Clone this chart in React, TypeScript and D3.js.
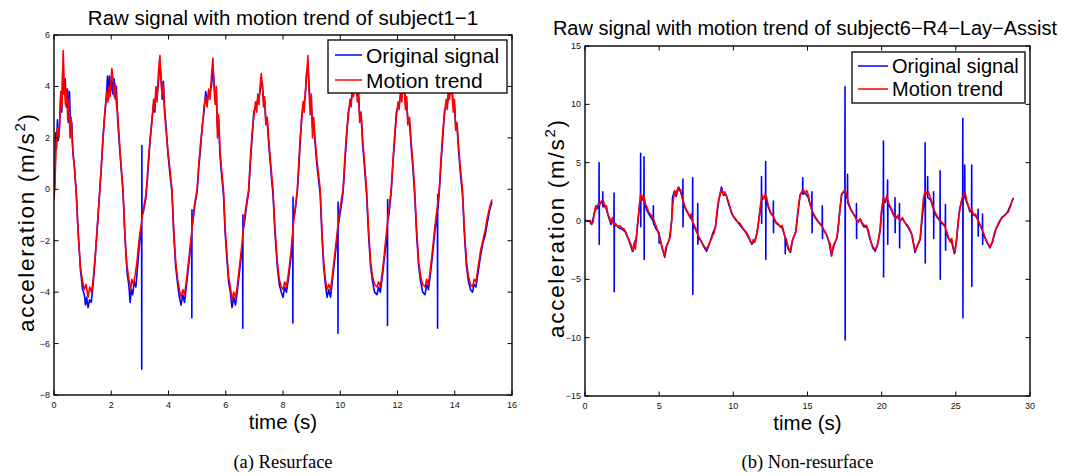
import React from "react";
import * as d3 from "d3";

// ---------------- DATA ----------------
const leftXTicks = [0, 2, 4, 6, 8, 10, 12, 14, 16];
const leftYTicks = [-8, -6, -4, -2, 0, 2, 4, 6];
const rightXTicks = [0, 5, 10, 15, 20, 25, 30];
const rightYTicks = [-15, -10, -5, 0, 5, 10, 15];
const seriesNames = ["Original signal", "Motion trend"];
const titles = [
  "Raw signal with motion trend of subject1\u22121",
  "Raw signal with motion trend of subject6\u2212R4\u2212Lay\u2212Assist",
];
const captions = ["(a) Resurface", "(b) Non-resurface"];

// left panel: motion trend (time s, acceleration)
const leftTrend: [number, number][] = [
  [0.0, -0.4], [0.04, 0.5], [0.08, 1.8], [0.12, 2.4], [0.16, 2.0], [0.2, 2.6], [0.24, 3.8], [0.28, 3.2], [0.32, 5.4], [0.36, 4.0],
  [0.4, 3.3], [0.44, 3.9], [0.48, 2.7], [0.52, 3.5], [0.56, 2.0], [0.6, 2.8], [0.64, 1.8], [0.7, 1.0], [0.77, 0.0], [0.84, -1.6],
  [0.92, -3.0], [1.0, -3.6], [1.06, -3.9], [1.12, -3.7], [1.19, -4.2], [1.25, -3.8], [1.31, -4.0], [1.37, -3.5], [1.44, -2.6], [1.52, -1.4],
  [1.6, 0.0], [1.66, 1.0], [1.72, 2.1], [1.78, 3.0], [1.84, 3.8], [1.88, 3.4], [1.92, 4.0], [1.96, 3.6], [2.02, 4.7], [2.06, 4.3],
  [2.1, 3.6], [2.14, 4.1], [2.18, 3.3], [2.22, 3.0], [2.28, 2.0], [2.34, 1.0], [2.41, 0.0], [2.48, -1.8], [2.55, -3.0], [2.62, -3.5],
  [2.68, -3.9], [2.72, -3.5], [2.78, -3.7], [2.84, -3.3], [2.9, -2.8], [2.97, -2.0], [3.04, -1.4], [3.12, -0.8], [3.2, -0.3], [3.25, 0.3],
  [3.3, 1.2], [3.36, 2.0], [3.42, 2.6], [3.48, 3.5], [3.52, 3.1], [3.56, 4.0], [3.6, 3.4], [3.65, 4.6], [3.7, 5.2], [3.74, 4.2],
  [3.78, 3.6], [3.82, 4.1], [3.86, 3.0], [3.92, 2.2], [3.98, 1.5], [4.05, 0.8], [4.12, 0.0], [4.18, -1.5], [4.25, -2.8], [4.32, -3.5],
  [4.38, -3.9], [4.44, -4.2], [4.5, -3.9], [4.56, -4.1], [4.62, -3.6], [4.7, -2.8], [4.78, -2.0], [4.85, -1.2], [4.92, -0.5], [5.0, 0.0],
  [5.06, 1.0], [5.12, 1.8], [5.18, 2.4], [5.24, 3.2], [5.3, 3.6], [5.35, 3.2], [5.4, 3.9], [5.45, 3.5], [5.5, 4.4], [5.55, 5.1],
  [5.59, 4.0], [5.63, 3.3], [5.67, 4.0], [5.71, 2.0], [5.75, 2.9], [5.8, 1.5], [5.86, 0.7], [5.92, 0.0], [5.98, -1.5], [6.04, -2.5],
  [6.1, -3.4], [6.16, -3.8], [6.22, -4.3], [6.28, -4.0], [6.34, -4.2], [6.4, -3.8], [6.48, -3.0], [6.56, -2.2], [6.64, -1.2], [6.72, -0.6],
  [6.8, 0.0], [6.86, 1.2], [6.92, 2.2], [6.98, 2.8], [7.04, 3.4], [7.08, 3.0], [7.12, 3.7], [7.16, 3.3], [7.2, 4.0], [7.24, 4.5],
  [7.28, 4.0], [7.32, 3.2], [7.36, 3.6], [7.4, 2.5], [7.45, 2.8], [7.5, 2.0], [7.57, 1.0], [7.65, 0.0], [7.72, -1.5], [7.8, -2.8],
  [7.87, -3.5], [7.94, -3.8], [8.0, -3.9], [8.06, -3.6], [8.12, -3.8], [8.2, -3.2], [8.28, -2.4], [8.36, -1.4], [8.44, -0.6], [8.5, 0.0],
  [8.55, 1.0], [8.6, 2.0], [8.65, 2.6], [8.7, 3.4], [8.74, 3.0], [8.78, 3.8], [8.82, 4.3], [8.87, 5.2], [8.91, 3.8], [8.95, 2.9],
  [8.99, 3.7], [9.03, 2.0], [9.07, 2.8], [9.12, 2.0], [9.18, 1.2], [9.24, 0.6], [9.3, 0.0], [9.36, -1.6], [9.42, -2.8], [9.48, -3.5],
  [9.54, -3.9], [9.6, -3.7], [9.66, -3.9], [9.72, -3.4], [9.8, -2.6], [9.88, -1.8], [9.96, -1.0], [10.04, -0.4], [10.1, 0.0], [10.16, 1.2],
  [10.22, 2.2], [10.28, 2.8], [10.34, 3.5], [10.38, 3.2], [10.42, 4.0], [10.46, 3.6], [10.52, 4.6], [10.56, 4.0], [10.6, 3.4], [10.64, 3.9],
  [10.68, 2.6], [10.73, 3.0], [10.78, 2.0], [10.85, 1.0], [10.92, 0.0], [10.99, -1.6], [11.06, -2.8], [11.13, -3.4], [11.2, -3.7], [11.28, -3.8],
  [11.34, -3.6], [11.4, -3.8], [11.47, -3.2], [11.55, -2.4], [11.63, -1.5], [11.71, -0.7], [11.78, 0.0], [11.84, 1.1], [11.9, 2.1], [11.96, 2.8],
  [12.02, 3.4], [12.06, 3.1], [12.1, 3.8], [12.15, 3.4], [12.2, 4.3], [12.24, 3.8], [12.28, 3.1], [12.32, 3.6], [12.36, 2.5], [12.42, 2.8],
  [12.48, 1.8], [12.54, 1.0], [12.6, 0.0], [12.67, -1.6], [12.74, -2.8], [12.81, -3.4], [12.88, -3.7], [12.96, -3.8], [13.02, -3.5], [13.08, -3.7],
  [13.15, -3.1], [13.23, -2.3], [13.31, -1.4], [13.39, -0.7], [13.46, 0.0], [13.52, 1.2], [13.58, 2.2], [13.64, 2.9], [13.7, 3.5], [13.74, 3.1],
  [13.78, 3.9], [13.82, 3.5], [13.87, 4.2], [13.91, 3.7], [13.95, 3.0], [13.99, 3.5], [14.03, 2.3], [14.08, 2.6], [14.14, 1.6], [14.2, 0.8],
  [14.27, 0.0], [14.34, -1.6], [14.41, -2.8], [14.48, -3.4], [14.55, -3.7], [14.62, -3.8], [14.68, -3.5], [14.74, -3.6], [14.82, -3.0], [14.9, -2.4],
  [14.98, -2.0], [15.06, -1.6], [15.14, -1.1], [15.22, -0.7], [15.3, -0.4],
];

// left panel: original signal
const leftOrig: [number, number][] = [
  [0.0, -0.3], [0.03, 0.2], [0.06, 2.2], [0.09, 1.6], [0.12, 2.7], [0.15, 1.9], [0.19, 2.3], [0.23, 3.6], [0.27, 3.0], [0.31, 4.9],
  [0.35, 3.7], [0.39, 4.3], [0.43, 3.2], [0.47, 3.9], [0.5, 2.6], [0.54, 3.8], [0.58, 2.4], [0.62, 2.6], [0.66, 1.4], [0.72, 0.8],
  [0.78, -0.2], [0.85, -1.8], [0.93, -3.2], [1.0, -3.9], [1.06, -4.1], [1.1, -4.5], [1.14, -4.2], [1.19, -4.6], [1.24, -4.3], [1.3, -4.4],
  [1.36, -3.8], [1.43, -2.8], [1.51, -1.5], [1.59, -0.2], [1.65, 0.8], [1.71, 2.0], [1.77, 2.9], [1.83, 3.6], [1.87, 4.4], [1.9, 3.5],
  [1.94, 4.4], [1.98, 3.8], [2.02, 4.3], [2.06, 3.7], [2.1, 4.3], [2.14, 3.5], [2.18, 4.0], [2.22, 2.8], [2.28, 1.8], [2.34, 0.9],
  [2.41, -0.1], [2.48, -1.9], [2.55, -3.2], [2.62, -3.8], [2.66, -4.4], [2.7, -3.9], [2.75, -4.1], [2.8, -3.6], [2.86, -3.8], [2.92, -3.0],
  [2.98, -2.2], [3.04, -1.5], [3.06, -1.4], [3.065, -7.0], [3.07, 1.7], [3.075, -1.0], [3.12, -0.9], [3.2, -0.4], [3.25, 0.2], [3.3, 1.0],
  [3.36, 1.9], [3.42, 2.7], [3.48, 3.3], [3.52, 3.0], [3.56, 3.8], [3.6, 3.6], [3.65, 4.2], [3.7, 4.9], [3.74, 4.4], [3.78, 3.5],
  [3.82, 4.2], [3.86, 3.2], [3.92, 2.4], [3.98, 1.4], [4.05, 0.6], [4.12, -0.1], [4.18, -1.7], [4.25, -3.0], [4.32, -3.7], [4.38, -4.2],
  [4.44, -4.5], [4.5, -4.1], [4.56, -4.4], [4.62, -3.8], [4.7, -3.0], [4.78, -2.1], [4.81, -1.8], [4.815, -5.0], [4.82, -0.8], [4.825, -1.4],
  [4.85, -1.3], [4.92, -0.6], [5.0, -0.1], [5.06, 0.9], [5.12, 1.6], [5.18, 2.5], [5.24, 3.0], [5.3, 3.8], [5.35, 3.4], [5.4, 3.7],
  [5.45, 3.8], [5.5, 4.0], [5.55, 4.7], [5.59, 4.2], [5.63, 3.5], [5.67, 3.8], [5.71, 2.4], [5.75, 2.7], [5.8, 1.3], [5.86, 0.5],
  [5.92, -0.2], [5.98, -1.7], [6.04, -2.7], [6.1, -3.6], [6.16, -4.0], [6.22, -4.6], [6.28, -4.2], [6.34, -4.5], [6.4, -4.0], [6.48, -3.2],
  [6.56, -2.4], [6.59, -2.1], [6.595, -5.4], [6.6, -1.0], [6.605, -1.6], [6.64, -1.4], [6.72, -0.7], [6.8, -0.1], [6.86, 1.0], [6.92, 2.0],
  [6.98, 3.0], [7.04, 3.2], [7.08, 3.3], [7.12, 3.5], [7.16, 3.6], [7.2, 3.8], [7.24, 4.2], [7.28, 4.1], [7.32, 3.4], [7.36, 3.4],
  [7.4, 2.7], [7.45, 2.6], [7.5, 1.8], [7.57, 0.8], [7.65, -0.2], [7.72, -1.7], [7.8, -3.0], [7.87, -3.7], [7.94, -4.0], [8.0, -4.2],
  [8.06, -3.8], [8.12, -4.0], [8.2, -3.4], [8.28, -2.6], [8.34, -1.8], [8.345, -5.2], [8.35, -0.3], [8.355, -1.2], [8.4, -1.0], [8.44, -0.7],
  [8.5, -0.1], [8.55, 0.8], [8.6, 1.8], [8.65, 2.8], [8.7, 3.2], [8.74, 3.4], [8.78, 3.6], [8.82, 4.5], [8.87, 4.8], [8.91, 4.1],
  [8.95, 3.2], [8.99, 3.4], [9.03, 2.4], [9.07, 2.5], [9.12, 1.8], [9.18, 1.0], [9.24, 0.4], [9.3, -0.2], [9.36, -1.8], [9.42, -3.0],
  [9.48, -3.7], [9.54, -4.2], [9.6, -3.9], [9.66, -4.2], [9.72, -3.6], [9.8, -2.8], [9.88, -2.0], [9.915, -1.6], [9.92, -5.6], [9.925, -0.5],
  [9.93, -1.4], [9.96, -1.2], [10.04, -0.6], [10.1, -0.1], [10.16, 1.0], [10.22, 2.0], [10.28, 3.0], [10.34, 3.3], [10.38, 3.4], [10.42, 3.8],
  [10.46, 3.8], [10.52, 4.3], [10.56, 4.2], [10.6, 3.6], [10.64, 3.6], [10.68, 2.8], [10.73, 2.8], [10.78, 1.8], [10.85, 0.8], [10.92, -0.2],
  [10.99, -1.8], [11.06, -3.0], [11.13, -3.6], [11.2, -4.0], [11.28, -4.1], [11.34, -3.8], [11.4, -4.0], [11.47, -3.4], [11.55, -2.6], [11.63, -1.7],
  [11.645, -1.6], [11.65, -5.3], [11.655, -0.4], [11.66, -1.2], [11.71, -0.9], [11.78, -0.1], [11.84, 1.0], [11.9, 1.9], [11.96, 3.0], [12.02, 3.2],
  [12.06, 3.3], [12.1, 3.6], [12.15, 3.6], [12.2, 4.0], [12.24, 4.0], [12.28, 3.3], [12.32, 3.4], [12.36, 2.7], [12.42, 2.6], [12.48, 1.6],
  [12.54, 0.8], [12.6, -0.2], [12.67, -1.8], [12.74, -3.0], [12.81, -3.6], [12.88, -4.0], [12.96, -4.1], [13.02, -3.7], [13.08, -3.9], [13.15, -3.3],
  [13.23, -2.5], [13.31, -1.6], [13.395, -0.9], [13.4, -5.4], [13.405, -0.2], [13.41, -0.8], [13.46, -0.1], [13.52, 1.0], [13.58, 2.0], [13.64, 3.0],
  [13.7, 3.3], [13.74, 3.3], [13.78, 3.7], [13.82, 3.7], [13.87, 4.0], [13.91, 3.9], [13.95, 3.2], [13.99, 3.3], [14.03, 2.5], [14.08, 2.4],
  [14.14, 1.4], [14.2, 0.6], [14.27, -0.2], [14.34, -1.8], [14.41, -3.0], [14.48, -3.6], [14.55, -3.9], [14.62, -4.0], [14.68, -3.7], [14.74, -3.8],
  [14.82, -3.2], [14.9, -2.6], [14.98, -2.1], [15.06, -1.8], [15.14, -1.3], [15.22, -0.8], [15.3, -0.5],
];

// right panel: motion trend
const rightTrend: [number, number][] = [
  [0.0, 0.0], [0.2, 0.0], [0.35, 0.05], [0.45, -0.25], [0.55, -0.1], [0.62, 0.6], [0.7, 1.2], [0.8, 1.0], [0.9, 1.5], [1.0, 1.4],
  [1.1, 1.7], [1.2, 1.8], [1.3, 1.5], [1.38, 1.1], [1.45, 1.3], [1.55, 0.5], [1.65, 0.3], [1.75, -0.1], [1.85, 0.3], [1.95, -0.4],
  [2.05, -0.2], [2.2, -0.5], [2.35, -0.4], [2.5, -0.6], [2.65, -0.7], [2.8, -1.1], [2.95, -1.6], [3.05, -1.9], [3.15, -2.2], [3.25, -2.6],
  [3.32, -1.9], [3.4, -2.4], [3.48, -1.3], [3.58, 0.2], [3.68, 1.5], [3.75, 2.3], [3.82, 2.2], [3.9, 1.9], [3.98, 2.1], [4.08, 1.4],
  [4.18, 1.2], [4.28, 0.8], [4.38, 0.6], [4.48, 0.5], [4.6, 0.2], [4.72, -0.2], [4.85, -0.6], [4.95, -1.1], [5.05, -1.6], [5.15, -2.0],
  [5.25, -2.5], [5.35, -3.0], [5.45, -2.3], [5.55, -2.0], [5.65, -1.7], [5.75, -1.3], [5.85, 0.2], [5.95, 1.8], [6.05, 2.6], [6.15, 2.3],
  [6.25, 2.8], [6.35, 2.6], [6.45, 2.7], [6.55, 2.0], [6.65, 1.6], [6.75, 1.2], [6.85, 0.9], [6.95, 0.7], [7.05, 0.4], [7.15, 0.6],
  [7.25, -0.1], [7.35, -0.3], [7.5, -0.8], [7.65, -1.3], [7.78, -1.6], [7.9, -1.9], [8.05, -2.2], [8.2, -2.4], [8.35, -2.0], [8.5, -1.6],
  [8.62, -1.2], [8.72, -1.0], [8.8, -0.4], [8.9, 0.9], [9.0, 1.8], [9.1, 2.2], [9.2, 2.7], [9.3, 2.3], [9.42, 2.5], [9.55, 2.1],
  [9.68, 1.6], [9.8, 1.1], [9.9, 0.7], [10.0, 0.4], [10.15, 0.2], [10.3, -0.1], [10.45, -0.2], [10.6, -0.5], [10.75, -0.8], [10.9, -1.0],
  [11.05, -1.4], [11.15, -1.7], [11.25, -1.9], [11.35, -1.6], [11.45, -1.8], [11.55, -1.3], [11.65, -0.6], [11.75, 0.5], [11.85, 1.6], [11.95, 2.2],
  [12.05, 1.9], [12.15, 2.3], [12.25, 2.0], [12.35, 1.3], [12.45, 1.0], [12.55, 0.6], [12.7, 0.4], [12.85, -0.1], [13.0, -0.2], [13.15, -0.5],
  [13.3, -0.4], [13.45, -1.2], [13.58, -1.6], [13.7, -2.3], [13.82, -2.6], [13.92, -2.0], [14.02, -1.5], [14.12, -1.2], [14.22, -0.9], [14.32, 0.5],
  [14.42, 1.6], [14.52, 2.3], [14.62, 2.5], [14.72, 2.7], [14.82, 2.4], [14.95, 2.6], [15.06, 2.2], [15.18, 1.4], [15.3, 0.9], [15.42, 0.6],
  [15.55, 0.3], [15.7, 0.0], [15.85, -0.2], [16.0, -0.5], [16.15, -0.9], [16.3, -1.2], [16.42, -1.7], [16.52, -1.9], [16.62, -2.9], [16.72, -2.2],
  [16.85, -1.8], [16.97, -1.5], [17.1, -0.2], [17.2, 1.2], [17.31, 2.3], [17.42, 2.5], [17.53, 2.7], [17.64, 2.2], [17.76, 1.6], [17.87, 1.2],
  [18.0, 0.8], [18.15, 0.5], [18.3, 0.1], [18.43, -0.1], [18.55, 0.2], [18.7, -0.2], [18.85, -0.4], [19.0, -0.4], [19.12, -0.9], [19.22, -1.5],
  [19.33, -2.0], [19.45, -2.3], [19.56, -2.4], [19.68, -2.2], [19.8, -1.5], [19.9, -0.6], [20.0, 1.0], [20.12, 2.0], [20.24, 1.7], [20.35, 2.2],
  [20.48, 1.5], [20.6, 1.2], [20.7, 0.9], [20.8, 0.6], [20.95, 0.2], [21.1, 0.5], [21.25, 0.0], [21.4, 0.3], [21.55, -0.1], [21.7, -0.3],
  [21.85, -0.6], [22.0, -1.0], [22.12, -1.8], [22.25, -2.5], [22.38, -2.2], [22.48, -1.9], [22.59, -1.5], [22.7, 0.2], [22.82, 2.0], [22.93, 2.6],
  [23.05, 2.3], [23.15, 2.5], [23.26, 2.1], [23.38, 1.6], [23.5, 1.1], [23.62, 0.7], [23.75, 0.4], [23.9, 0.1], [24.05, -0.1], [24.2, -0.3],
  [24.35, -0.8], [24.5, -1.4], [24.61, -1.8], [24.72, -1.5], [24.85, -2.4], [24.95, -2.7], [25.05, -1.5], [25.18, 0.2], [25.29, 1.1], [25.4, 1.8],
  [25.5, 2.2], [25.62, 2.5], [25.72, 1.8], [25.85, 1.3], [25.96, 0.9], [26.08, 1.0], [26.2, 0.5], [26.32, 0.6], [26.45, 0.2], [26.58, -0.2],
  [26.72, -0.6], [26.86, -1.0], [27.0, -1.5], [27.15, -1.9], [27.31, -2.2], [27.45, -1.8], [27.6, -1.0], [27.76, -0.5], [27.9, -0.1], [28.05, 0.2],
  [28.21, 0.4], [28.38, 0.6], [28.55, 0.8], [28.7, 1.3], [28.8, 1.8], [28.88, 1.9],
];

// right panel: original signal
const rightOrig: [number, number][] = [
  [0, 0.05], [0.3, 0], [0.45, -0.3], [0.6, 0.5], [0.75, 1.3], [0.9, 1.1], [0.94, 1.2], [0.95, 5.0], [0.96, -2.0], [0.97, 1.4],
  [1.1, 1.6], [1.19, 1.6], [1.2, 2.5], [1.21, 1.2], [1.3, 1.4], [1.45, 1.0], [1.6, 0.3], [1.75, -0.3], [1.9, 0.1], [1.95, -0.2],
  [1.96, 2.4], [1.97, -6.06], [1.98, -0.5], [2.1, -0.3], [2.3, -0.6], [2.5, -0.7], [2.7, -0.9], [2.9, -1.5], [3.05, -2.0], [3.2, -2.6],
  [3.3, -2.0], [3.45, -1.5], [3.6, 0.4], [3.74, 2.0], [3.75, 5.8], [3.76, -0.5], [3.77, 2.2], [3.88, 1.8], [3.97, 2.0], [3.98, 5.5],
  [3.99, -3.3], [4.0, 1.8], [4.15, 1.0], [4.3, 0.6], [4.45, 0.3], [4.6, 0.0], [4.61, 1.3], [4.62, -0.2], [4.8, -0.7], [4.99, -1.0],
  [5.0, -1.9], [5.01, -1.2], [5.2, -2.3], [5.38, -3.1], [5.5, -2.2], [5.7, -1.5], [5.85, 0.1], [5.9, 2.0], [6.0, 2.5], [6.15, 2.1],
  [6.3, 2.9], [6.45, 2.5], [6.59, 1.8], [6.6, 3.6], [6.61, -0.5], [6.62, 1.5], [6.8, 1.0], [7.0, 0.5], [7.25, 0.0], [7.26, 3.7],
  [7.27, -6.3], [7.28, -0.3], [7.45, -0.7], [7.59, -1.1], [7.6, 1.5], [7.61, -2.0], [7.62, -1.3], [7.85, -1.8], [8.05, -2.3], [8.2, -2.6],
  [8.4, -1.9], [8.6, -1.1], [8.8, -0.5], [8.9, 0.6], [9.05, 2.0], [9.2, 2.9], [9.35, 2.2], [9.5, 2.3], [9.7, 1.4], [9.9, 0.6],
  [10.1, 0.2], [10.35, -0.2], [10.6, -0.6], [10.85, -1.0], [11.05, -1.5], [11.25, -2.0], [11.45, -1.7], [11.6, -1.0], [11.75, 0.4], [11.89, 1.6],
  [11.9, 3.8], [11.91, -0.2], [11.92, 1.8], [12.05, 2.0], [12.17, 2.1], [12.18, 5.1], [12.19, -3.3], [12.2, 2.0], [12.35, 1.2], [12.5, 0.7],
  [12.69, 0.4], [12.7, 1.7], [12.71, -1.0], [12.72, 0.3], [12.9, -0.2], [13.1, -0.4], [13.3, -0.6], [13.49, -1.4], [13.5, -2.8], [13.51, -1.5],
  [13.7, -2.4], [13.85, -2.7], [14.0, -1.6], [14.2, -1.0], [14.35, 0.6], [14.5, 2.2], [14.67, 2.6], [14.68, 3.7], [14.69, 2.3], [14.85, 2.4],
  [15.05, 2.0], [15.2, 1.3], [15.29, 1.0], [15.3, 2.5], [15.31, -1.0], [15.32, 0.8], [15.5, 0.3], [15.75, -0.1], [15.99, -0.5], [16.0, 1.3],
  [16.01, -1.5], [16.02, -0.6], [16.25, -1.1], [16.45, -1.8], [16.62, -3.0], [16.8, -2.0], [17.0, -1.4], [17.15, 0.5], [17.3, 2.3], [17.52, 2.6],
  [17.53, 11.5], [17.54, -10.2], [17.55, 2.4], [17.69, 1.9], [17.7, 4.0], [17.71, 1.6], [17.9, 1.0], [18.1, 0.6], [18.29, 0.2], [18.3, 1.5],
  [18.31, -1.5], [18.32, 0.0], [18.55, 0.1], [18.8, -0.5], [19.0, -0.5], [19.2, -1.5], [19.4, -2.3], [19.56, -2.6], [19.75, -1.9], [19.9, -0.8],
  [20.0, 0.9], [20.11, 1.9], [20.12, 6.85], [20.13, -4.8], [20.14, 1.8], [20.25, 1.6], [20.39, 2.1], [20.4, 3.5], [20.41, -2.0], [20.42, 1.5],
  [20.6, 1.1], [20.8, 0.5], [20.89, 0.3], [20.9, 2.0], [20.91, -1.0], [20.92, 0.2], [21.05, 0.4], [21.19, 0.1], [21.2, 1.5], [21.21, -2.3],
  [21.22, 0.0], [21.4, 0.2], [21.6, -0.2], [21.85, -0.7], [22.05, -1.2], [22.25, -2.7], [22.45, -2.0], [22.6, -1.6], [22.75, 0.5], [22.92, 2.3],
  [22.93, 6.7], [22.94, -3.6], [22.95, 2.4], [23.09, 2.4], [23.1, 3.8], [23.11, 2.0], [23.3, 1.8], [23.49, 1.0], [23.5, 2.5], [23.51, -1.5],
  [23.52, 0.8], [23.75, 0.3], [23.93, 0.0], [23.94, 4.3], [23.95, -5.0], [23.96, -0.1], [24.15, -0.3], [24.29, -0.5], [24.3, 1.4], [24.31, -2.5],
  [24.32, -0.8], [24.5, -1.5], [24.7, -1.7], [24.9, -2.8], [25.05, -1.6], [25.25, 1.0], [25.46, 2.1], [25.47, 8.8], [25.48, -8.3], [25.49, 2.0],
  [25.59, 2.3], [25.6, 4.8], [25.61, 2.0], [25.8, 1.4], [25.95, 0.8], [26.06, 0.8], [26.07, 4.8], [26.08, -5.6], [26.09, 0.6], [26.3, 0.5],
  [26.49, 0.1], [26.5, 1.0], [26.51, -1.3], [26.52, 0.0], [26.79, -0.8], [26.8, 0.6], [26.81, -2.0], [26.82, -1.0], [27.05, -1.7], [27.3, -2.3],
  [27.5, -1.7], [27.7, -0.7], [27.9, -0.2], [28.1, 0.3], [28.3, 0.5], [28.5, 0.8], [28.7, 1.4], [28.88, 2.0],
];

// ---------------- DRAWING ----------------
const FONT = "'Liberation Sans', Arial, Helvetica, sans-serif";
const minus = (v: number) => (v < 0 ? "\u2212" + Math.abs(v) : String(v));

type PanelProps = {
  id: string;
  box: { x0: number; x1: number; y0: number; y1: number };
  xDomain: [number, number];
  yDomain: [number, number];
  xTicks: number[];
  yTicks: number[];
  orig: [number, number][];
  trend: [number, number][];
  title: string;
  titleX: number;
  titleY: number;
  titleSize: number;
  ylabelX: number;
  legend: { x: number; y: number; w: number; h: number; fs: number; row1: number; row2: number; lx0: number; lx1: number; tx: number };
  caption: string;
};

function Panel(p: PanelProps) {
  const { box } = p;
  const x = d3.scaleLinear().domain(p.xDomain).range([box.x0, box.x1]);
  const y = d3.scaleLinear().domain(p.yDomain).range([box.y1, box.y0]);
  const line = d3
    .line<[number, number]>()
    .x((d) => x(d[0]))
    .y((d) => y(d[1]));
  const tl = 4.5;
  const cx = (box.x0 + box.x1) / 2;
  const cy = (box.y0 + box.y1) / 2;
  const lg = p.legend;
  return (
    <g>
      <defs>
        <clipPath id={p.id}>
          <rect x={box.x0} y={box.y0} width={box.x1 - box.x0} height={box.y1 - box.y0} />
        </clipPath>
      </defs>
      <g clipPath={`url(#${p.id})`} fill="none" strokeLinejoin="round">
        <path d={line(p.orig) || ""} stroke="#0000ff" strokeWidth={1.6} />
        <path d={line(p.trend) || ""} stroke="#ff0000" strokeWidth={1.6} />
      </g>
      {/* ticks */}
      <g stroke="#000" strokeWidth={1}>
        {p.xTicks.map((t) => (
          <g key={"xt" + t}>
            <line x1={x(t)} x2={x(t)} y1={box.y1} y2={box.y1 - tl} />
            <line x1={x(t)} x2={x(t)} y1={box.y0} y2={box.y0 + tl} />
          </g>
        ))}
        {p.yTicks.map((t) => (
          <g key={"yt" + t}>
            <line x1={box.x0} x2={box.x0 + tl} y1={y(t)} y2={y(t)} />
            <line x1={box.x1} x2={box.x1 - tl} y1={y(t)} y2={y(t)} />
          </g>
        ))}
      </g>
      <rect x={box.x0} y={box.y0} width={box.x1 - box.x0} height={box.y1 - box.y0} fill="none" stroke="#000" strokeWidth={1.4} />
      <g fontFamily={FONT} fontSize={9} fill="#111">
        {p.xTicks.map((t) => (
          <text key={"xl" + t} x={x(t)} y={box.y1 + 13} textAnchor="middle">
            {minus(t)}
          </text>
        ))}
        {p.yTicks.map((t) => (
          <text key={"yl" + t} x={box.x0 - 4} y={y(t) + 3} textAnchor="end">
            {minus(t)}
          </text>
        ))}
      </g>
      <text x={p.titleX} y={p.titleY} fontFamily={FONT} fontSize={p.titleSize} textAnchor="middle" fill="#000">
        {p.title}
      </text>
      <text x={cx} y={box.y1 + 34} fontFamily={FONT} fontSize={20.5} textAnchor="middle" fill="#000">
        time (s)
      </text>
      <text
        transform={`translate(${p.ylabelX},${cy + 8}) rotate(-90)`}
        fontFamily={FONT}
        fontSize={22.5}
        textAnchor="middle"
        textLength={218}
        lengthAdjust="spacing"
        fill="#000"
      >
        acceleration (m/s<tspan fontSize={15} dy={-9}>2</tspan>
        <tspan dy={9}>)</tspan>
      </text>
      {/* legend */}
      <rect x={lg.x} y={lg.y} width={lg.w} height={lg.h} fill="#fff" stroke="#000" strokeWidth={1.3} />
      <line x1={lg.lx0} x2={lg.lx1} y1={lg.row1} y2={lg.row1} stroke="#0000ff" strokeWidth={1.5} />
      <line x1={lg.lx0} x2={lg.lx1} y1={lg.row2} y2={lg.row2} stroke="#ff0000" strokeWidth={1.5} />
      <text x={lg.tx} y={lg.row1 + lg.fs * 0.36} fontFamily={FONT} fontSize={lg.fs} fill="#000">
        {seriesNames[0]}
      </text>
      <text x={lg.tx} y={lg.row2 + lg.fs * 0.36} fontFamily={FONT} fontSize={lg.fs} fill="#000">
        {seriesNames[1]}
      </text>
      <text x={cx} y={468} fontFamily="'Liberation Serif', 'DejaVu Serif', serif" fontSize={18.5} textAnchor="middle" fill="#000">
        {p.caption}
      </text>
    </g>
  );
}

export default function App() {
  return (
    <svg width={1069} height={476} style={{ position: "absolute", left: 0, top: 0, background: "#fff" }}>
      <rect width={1069} height={476} fill="#fff" />
      <Panel
        id="clipL"
        box={{ x0: 54, x1: 512, y0: 35, y1: 395 }}
        xDomain={[0, 16]}
        yDomain={[-8, 6]}
        xTicks={leftXTicks}
        yTicks={leftYTicks}
        orig={leftOrig}
        trend={leftTrend}
        title={titles[0]}
        titleX={283}
        titleY={25}
        titleSize={20.5}
        ylabelX={34}
        legend={{ x: 328, y: 40, w: 179, h: 53, fs: 21, row1: 55, row2: 80, lx0: 335, lx1: 362, tx: 366 }}
        caption={captions[0]}
      />
      <Panel
        id="clipR"
        box={{ x0: 585, x1: 1030, y0: 46, y1: 396 }}
        xDomain={[0, 30]}
        yDomain={[-15, 15]}
        xTicks={rightXTicks}
        yTicks={rightYTicks}
        orig={rightOrig}
        trend={rightTrend}
        title={titles[1]}
        titleX={805}
        titleY={35}
        titleSize={20}
        ylabelX={564}
        legend={{ x: 852, y: 52, w: 173, h: 51, fs: 20, row1: 66, row2: 89, lx0: 858, lx1: 888, tx: 892 }}
        caption={captions[1]}
      />
    </svg>
  );
}
